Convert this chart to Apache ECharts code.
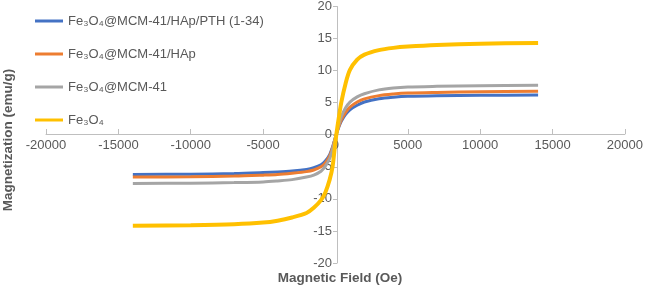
<!DOCTYPE html>
<html>
<head>
<meta charset="utf-8">
<script src="https://cdn.jsdelivr.net/npm/echarts@6/dist/echarts.min.js"></script>
<style>
  html, body { margin: 0; padding: 0; background: #fff; }
  #chart { width: 646px; height: 286px; }
</style>
</head>
<body>
<div id="chart"></div>
<script>
const fieldOe = [-14000, -10000, -7000, -5000, -4000, -3000, -2000, -1500, -1000, -700, -400, -200, 0, 200, 400, 700, 1000, 1500, 2000, 3000, 4000, 5000, 7000, 10000, 14000]

const seriesNames = ['Fe₃O₄@MCM-41/HAp/PTH (1-34)', 'Fe₃O₄@MCM-41/HAp', 'Fe₃O₄@MCM-41', 'Fe₃O₄']
const mPth = [-6.2, -6.15, -6.05, -5.9, -5.8, -5.65, -5.4, -5.15, -4.7, -4.1, -3.1, -1.9, -0.4, 1.0, 2.1, 3.2, 3.9, 4.6, 5.1, 5.6, 5.85, 6.0, 6.1, 6.15, 6.2]
const mHap = [-6.6, -6.55, -6.45, -6.3, -6.2, -6.0, -5.75, -5.5, -5.0, -4.4, -3.3, -2.0, -0.4, 1.1, 2.3, 3.5, 4.3, 5.1, 5.6, 6.1, 6.35, 6.5, 6.6, 6.7, 6.8]
const mMcm = [-7.6, -7.55, -7.45, -7.35, -7.2, -7.0, -6.6, -6.3, -5.7, -4.9, -3.7, -2.3, -0.4, 1.3, 2.8, 4.2, 5.1, 5.9, 6.4, 7.0, 7.3, 7.45, 7.55, 7.65, 7.7]
const mFe = [-14.2, -14.1, -13.95, -13.7, -13.4, -12.9, -12.2, -11.4, -10.2, -9.0, -7.0, -5.0, -1.0, 2.2, 5.0, 8.0, 10.1, 11.7, 12.5, 13.2, 13.55, 13.75, 14.0, 14.2, 14.3]

const colors = ['#4472C4', '#ED7D31', '#A5A5A5', '#FFC000']
const widths = [3, 3, 3, 4]
const values = [mPth, mHap, mMcm, mFe]

const textColor = '#595959'
const font = 'Liberation Sans'

// grid edges, used to move both axes onto the zero lines (Excel style)
const gridLeft = 46, gridRight = 18, gridTop = 5, gridBottom = 23
const plotW = 646 - gridLeft - gridRight
const plotH = 286 - gridTop - gridBottom

const chart = echarts.init(document.getElementById('chart'))

const option = {
  animation: false,
  textStyle: { fontFamily: font },
  grid: { left: gridLeft, right: gridRight, top: gridTop, bottom: gridBottom },
  legend: {
    orient: 'vertical',
    left: 35,
    top: 13,
    padding: 0,
    itemWidth: 28,
    itemHeight: 3,
    itemGap: 17,
    icon: 'rect',
    textStyle: { color: textColor, fontSize: 13, fontFamily: font, lineHeight: 16 },
    data: seriesNames,
  },
  xAxis: {
    type: 'value',
    min: -20000,
    max: 20000,
    interval: 5000,
    position: 'bottom',
    offset: -plotH / 2,
    axisLine: { onZero: false, lineStyle: { color: '#bfbfbf', width: 1 } },
    axisTick: { show: true, inside: true, length: 5, lineStyle: { color: '#bfbfbf' } },
    axisLabel: { color: textColor, fontSize: 13, margin: 5, formatter: (v) => String(v) },
    splitLine: { show: false },
  },
  yAxis: {
    type: 'value',
    min: -20,
    max: 20,
    interval: 5,
    position: 'left',
    offset: -plotW / 2,
    axisLine: { onZero: false, lineStyle: { color: '#bfbfbf', width: 1 } },
    axisTick: { show: true, length: 4, lineStyle: { color: '#bfbfbf' } },
    axisLabel: { color: textColor, fontSize: 13, margin: 5 },
    splitLine: { show: false },
  },
  graphic: [
    {
      type: 'text',
      x: 8, y: 140,
      rotation: Math.PI / 2,
      style: {
        text: 'Magnetization (emu/g)',
        fill: textColor,
        font: 'bold 13.5px "Liberation Sans"',
        align: 'center',
        verticalAlign: 'middle',
      },
    },
    {
      type: 'text',
      x: 340, y: 278,
      style: {
        text: 'Magnetic Field (Oe)',
        fill: textColor,
        font: 'bold 13.5px "Liberation Sans"',
        align: 'center',
        verticalAlign: 'middle',
      },
    },
  ],
  series: seriesNames.map((name, i) => ({
    name,
    type: 'line',
    smooth: 0.3,
    showSymbol: false,
    color: colors[i],
    lineStyle: { width: widths[i], color: colors[i] },
    data: fieldOe.map((h, j) => [h, values[i][j]]),
  })),
}

chart.setOption(option)
</script>
</body>
</html>
